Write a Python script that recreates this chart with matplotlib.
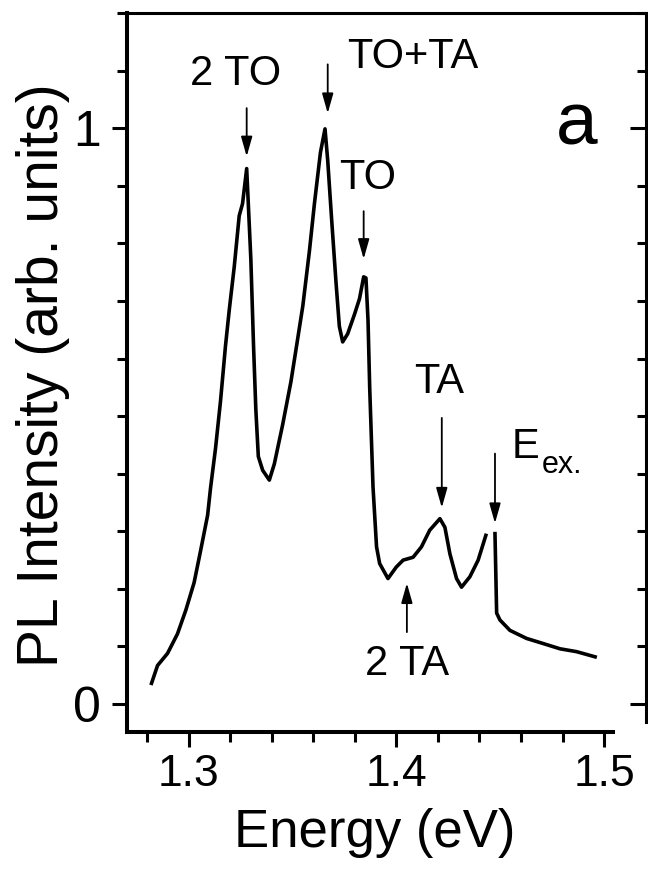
import numpy as np
import matplotlib
matplotlib.use('Agg')
import matplotlib.pyplot as plt
from matplotlib.ticker import MultipleLocator, FixedLocator, NullFormatter

plt.rcParams['font.family'] = ['Liberation Sans', 'DejaVu Sans']

# PL spectrum (nan = gap before the laser line)
energy = [1.2822, 1.2851, 1.2899, 1.2947, 1.2987, 1.3027, 1.3058, 1.3092, 1.3106, 1.3130,
          1.3154, 1.3178, 1.3196, 1.3220, 1.3244, 1.3260, 1.3280, 1.3300, 1.3313, 1.3324,
          1.3336, 1.3357, 1.3389, 1.3413, 1.3453, 1.3493, 1.3517, 1.3550, 1.3582, 1.3606,
          1.3635, 1.3657, 1.3670, 1.3689, 1.3710, 1.3726, 1.3742, 1.3766, 1.3799, 1.3823,
          1.3843, 1.3854, 1.3864, 1.3872, 1.3888, 1.3905, 1.3920, 1.3960, 1.4000, 1.4033,
          1.4081, 1.4121, 1.4161, 1.4210, 1.4234, 1.4258, 1.4290, 1.4314, 1.4354, 1.4394,
          1.4431, np.nan, 1.4475, 1.4483, 1.4499, 1.4547, 1.4627, 1.4708, 1.4788, 1.4868,
          1.4957]
intensity = [0.036, 0.067, 0.088, 0.122, 0.163, 0.211, 0.266, 0.328, 0.375, 0.444,
             0.526, 0.622, 0.684, 0.759, 0.848, 0.869, 0.930, 0.773, 0.622, 0.512,
             0.430, 0.406, 0.389, 0.417, 0.485, 0.560, 0.615, 0.691, 0.787, 0.869,
             0.958, 0.999, 0.944, 0.841, 0.732, 0.656, 0.629, 0.643, 0.677, 0.704,
             0.742, 0.740, 0.666, 0.550, 0.377, 0.273, 0.244, 0.218, 0.238, 0.250,
             0.255, 0.273, 0.302, 0.322, 0.307, 0.261, 0.218, 0.203, 0.221, 0.250,
             0.293, np.nan, 0.296, 0.158, 0.146, 0.128, 0.114, 0.105, 0.096, 0.091,
             0.082]

# peak labels: text, label x, label baseline y, arrow tail, arrow tip
labels = ['2 TO', 'TO+TA', 'TO', 'TA', '2 TA']
label_x = [1.3227, 1.4080, 1.3863, 1.4205, 1.4050]
label_y = [1.076, 1.104, 0.894, 0.541, 0.050]
arrow_x = [1.3280, 1.3670, 1.3843, 1.4219, 1.4051]
arrow_tail = [1.035, 1.111, 0.856, 0.497, 0.125]
arrow_tip = [0.951, 1.026, 0.773, 0.341, 0.210]

# laser line
eex_x = 1.4475
eex_tail, eex_tip = 0.435, 0.314

fig = plt.figure(figsize=(6.48, 8.69), dpi=100)
W, H = 648.0, 869.0
ax = fig.add_axes([127 / W, 1 - 732 / H, (613 - 127) / W, (732 - 13) / H])

ax.plot(energy, intensity, color='black', lw=2.6)

ax.set_xlim(1.2704, 1.5043)
ax.set_ylim(-0.0485, 1.2002)

for s in ['left', 'bottom']:
    ax.spines[s].set_linewidth(2.9)
ax.spines['top'].set_linewidth(2.2)
ax.spines['top'].set_bounds(1.2704, 1.5212)
ax.spines['right'].set_visible(False)

ax.xaxis.set_major_locator(MultipleLocator(0.1))
ax.xaxis.set_minor_locator(MultipleLocator(0.02))
ax.yaxis.set_major_locator(FixedLocator([0, 1]))
ax.yaxis.set_minor_locator(MultipleLocator(0.1))
ax.xaxis.set_major_formatter(plt.FuncFormatter(lambda v, p: '%.1f' % v))
ax.yaxis.set_major_formatter(plt.FuncFormatter(lambda v, p: '%d' % round(v)))

ax.tick_params(which='both', direction='out', width=2.2, top=False, right=False)
ax.tick_params(which='major', length=11)
ax.tick_params(which='minor', length=7)
ax.tick_params(axis='x', which='major', labelsize=32, pad=5)
ax.tick_params(axis='y', which='major', labelsize=36, pad=8)

# neighbouring panel's axis on the right edge
ax2 = fig.add_axes([646 / W, 1 - 722 / H, 0.2, (722 - 13) / H])
ax2.set_ylim((704 - 722) / 577.0, 1.2002)
ax2.patch.set_visible(False)
for s in ['top', 'right', 'bottom']:
    ax2.spines[s].set_visible(False)
ax2.spines['left'].set_linewidth(2.2)
ax2.set_xticks([])
ax2.yaxis.set_major_locator(FixedLocator([0, 1]))
ax2.yaxis.set_minor_locator(MultipleLocator(0.1))
ax2.yaxis.set_major_formatter(NullFormatter())
ax2.tick_params(which='both', direction='out', width=2.2)
ax2.tick_params(which='major', length=11.5)
ax2.tick_params(which='minor', length=6.5)

arrow_style = dict(arrowstyle='-|>,head_length=0.6,head_width=0.17', color='black',
                   lw=1.3, shrinkA=0, shrinkB=0, mutation_scale=20)
for t, lx, ly, axx, a0, a1 in zip(labels, label_x, label_y, arrow_x, arrow_tail, arrow_tip):
    ax.text(lx, ly, t, fontsize=30, ha='center', va='baseline')
    ax.annotate('', xy=(axx, a1), xytext=(axx, a0), arrowprops=arrow_style)

ax.annotate('', xy=(eex_x, eex_tip), xytext=(eex_x, eex_tail), arrowprops=arrow_style)
ax.text(1.4557, 0.428, 'E', fontsize=30, ha='left', va='baseline')
ax.text(1.4701, 0.402, 'ex.', fontsize=22, ha='left', va='baseline')

ax.text(1.487, 0.972, 'a', fontsize=54, ha='center', va='baseline')

fig.text(375 / W, 1 - 847 / H, 'Energy (eV)', fontsize=38, ha='center', va='baseline')
fig.text(43.5 / W, 1 - 375 / H, 'PL Intensity (arb. units)', fontsize=41,
         rotation=90, ha='center', va='center')

fig.savefig('out.png', dpi=100)
